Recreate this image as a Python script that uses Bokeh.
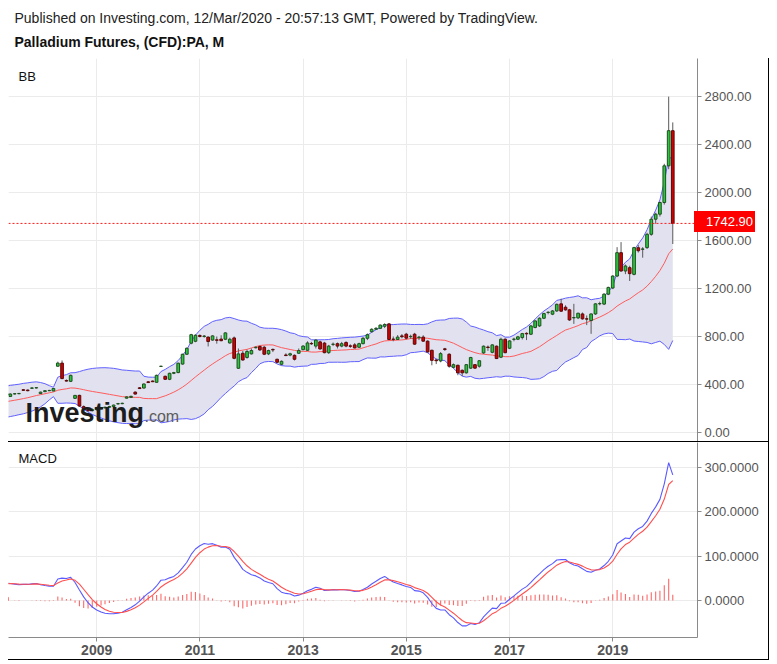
import pandas as pd
from datetime import datetime
from bokeh.plotting import figure
from bokeh.models import (Range1d, ColumnDataSource, FixedTicker, NumeralTickFormatter,
                          DatetimeTickFormatter, Label, Span, Grid, Div)
from bokeh.layouts import column
from bokeh.embed import file_html
from bokeh.resources import INLINE

# ---------------- data (monthly, Palladium CFD) ----------------
first_month = "2007-04-01"
pre_first_month = "2005-01-01"
# closes before the visible window (estimated from the indicators' start values)
pre_closes = [185, 190, 195, 198, 185, 182, 186, 190, 192, 196, 200, 205,
              198, 195, 192, 190, 188, 192, 230, 290, 318, 325, 330, 335,
              338, 340, 342]

opens = [318, 300, 321, 323, 356, 353, 368, 371, 324,
         340, 348, 346, 552, 578, 433, 426, 284, 309, 215, 190, 182,
         190, 198, 205, 210, 216, 238, 240, 286, 292, 336, 372, 370,
         422, 428, 418, 550, 468, 443, 493, 499, 570, 652, 744, 760,
         808, 800, 795, 770, 772, 778, 777, 746, 788, 535, 660, 625,
         655, 706, 716, 710, 655, 692, 610, 568, 646, 645, 643, 660,
         690, 685, 742, 720, 755, 745, 665, 734, 740, 720, 750, 722,
         730, 710, 740, 785, 840, 860, 868, 885, 905, 778, 775, 805,
         819, 798, 819, 790, 795, 761, 685, 604, 596, 697, 652, 543,
         560, 518, 497, 536, 565, 552, 663, 712, 668, 719, 627, 777,
         702, 776, 777, 791, 826, 819, 875, 888, 952, 1000, 986, 1013,
         1072, 1044, 1022, 955, 955, 988, 947, 933, 988, 1072, 1070, 1153,
         1204, 1304, 1499, 1346, 1374, 1318, 1540, 1527, 1541, 1652, 1778, 1820,
         1917, 2223, 2516]
highs = [326, 326, 327, 329, 362, 358, 376, 378, 340,
         352, 355, 370, 590, 600, 442, 482, 312, 314, 225, 205, 200,
         210, 212, 215, 222, 232, 246, 248, 302, 306, 342, 378, 408,
         428, 434, 482, 556, 474, 498, 505, 582, 656, 708, 822, 818,
         818, 812, 800, 810, 800, 810, 835, 790, 800, 700, 680, 690,
         700, 718, 725, 722, 690, 700, 615, 600, 660, 665, 650, 700,
         728, 760, 755, 778, 765, 755, 730, 750, 750, 755, 760, 735,
         745, 748, 795, 825, 868, 878, 900, 910, 912, 800, 812, 820,
         830, 815, 830, 805, 810, 768, 690, 615, 670, 705, 660, 575,
         565, 525, 570, 630, 570, 603, 725, 725, 735, 725, 790, 785,
         770, 790, 805, 830, 835, 895, 935, 960, 998, 1010, 1020, 1075,
         1115, 1060, 1030, 1072, 998, 1000, 975, 992, 1078, 1090, 1160, 1215,
         1310, 1545, 1587, 1400, 1390, 1548, 1562, 1545, 1665, 1800, 1832, 1925,
         2240, 2800, 2585]
lows = [310, 296, 316, 318, 347, 343, 364, 366, 320,
        336, 344, 343, 548, 444, 424, 420, 280, 212, 185, 170, 175,
        182, 190, 198, 205, 210, 232, 235, 282, 288, 316, 362, 366,
        412, 420, 414, 546, 438, 436, 486, 494, 565, 646, 735, 752,
        792, 790, 717, 765, 740, 760, 770, 740, 610, 530, 598, 615,
        650, 700, 680, 645, 645, 670, 578, 560, 636, 635, 600, 655,
        685, 680, 730, 700, 690, 660, 655, 720, 700, 710, 710, 705,
        700, 705, 735, 770, 832, 855, 862, 870, 770, 760, 770, 785,
        775, 780, 730, 770, 755, 665, 560, 570, 585, 680, 540, 535,
        477, 470, 490, 530, 530, 540, 655, 680, 660, 612, 620, 660,
        695, 760, 770, 775, 770, 812, 868, 880, 945, 985, 978, 1005,
        1005, 1015, 930, 905, 945, 940, 895, 822, 980, 1060, 1062, 1145,
        1195, 1295, 1340, 1320, 1263, 1310, 1500, 1457, 1530, 1640, 1740, 1800,
        1900, 2195, 1571]
closes = [320, 320, 323, 325, 351, 348, 371, 373, 336,
          348, 350, 366, 578, 449, 428, 476, 309, 220, 192, 182, 190,
          198, 205, 210, 216, 228, 240, 243, 296, 301, 320, 366, 404,
          416, 423, 476, 552, 443, 493, 499, 577, 652, 702, 815, 810,
          800, 804, 758, 805, 768, 765, 830, 777, 618, 655, 604, 675,
          683, 710, 688, 652, 683, 688, 585, 593, 641, 656, 610, 683,
          720, 746, 739, 770, 696, 665, 720, 736, 720, 740, 720, 718,
          705, 740, 785, 815, 860, 868, 895, 900, 775, 776, 795, 798,
          786, 801, 736, 795, 761, 671, 601, 598, 657, 692, 552, 565,
          497, 497, 565, 625, 536, 598, 719, 708, 730, 616, 777, 665,
          763, 778, 797, 824, 822, 888, 930, 952, 991, 1002, 1013, 1068,
          1011, 1022, 938, 958, 994, 947, 945, 988, 1072, 1075, 1153, 1209,
          1304, 1499, 1346, 1388, 1324, 1541, 1515, 1530, 1652, 1778, 1820, 1917,
          2223, 2516, 1742.9]

year_ticks = [2009, 2011, 2013, 2015, 2017, 2019]
price_ticks = [0, 400, 800, 1200, 1600, 2000, 2400, 2800]
macd_ticks = [0, 100, 200, 300]
last_price = 1742.90

# ---------------- derived ----------------
dates = pd.date_range(first_month, periods=len(closes), freq="MS")
pre_dates = pd.date_range(pre_first_month, periods=len(pre_closes), freq="MS")
all_dates = pre_dates.append(dates)
allc = pd.Series([float(v) for v in pre_closes + closes], index=all_dates)

mid = allc.rolling(20).mean()
sd = allc.rolling(20).std(ddof=0)
upper = mid + 2 * sd
lower = mid - 2 * sd
ema12 = allc.ewm(span=12, adjust=False).mean()
ema26 = allc.ewm(span=26, adjust=False).mean()
macd = ema12 - ema26
signal = macd.ewm(span=4, adjust=False).mean()
hist = macd - signal

start = 19
ind = ColumnDataSource(dict(
    x=all_dates[start:], mid=mid.values[start:], up=upper.values[start:], lo=lower.values[start:],
    macd=macd.values[start:], sig=signal.values[start:], hist=hist.values[start:]))

UP_FILL, UP_LINE = "#2ac83e", "#1f4f1f"
DN_FILL, DN_LINE = "#cf0000", "#5c0909"
is_up = [c >= o for o, c in zip(opens, closes)]
candles = ColumnDataSource(dict(
    x=dates, o=opens, h=highs, l=lows, c=closes,
    top=[max(o, c) for o, c in zip(opens, closes)],
    bottom=[min(o, c) for o, c in zip(opens, closes)],
    fill=[UP_FILL if u else DN_FILL for u in is_up],
    line=[UP_LINE if u else DN_LINE for u in is_up]))

DAY = 86400000
xr = Range1d(start=datetime(2007, 4, 18), end=datetime(2020, 8, 23))
year_ms = [pd.Timestamp(f"{y}-01-01").value // 10**6 for y in year_ticks]
FONT = "Liberation Sans"
GRID = "#ebebeb"
AXIS = "#8a8a8a"
LABEL = "#555555"

MAIN_H = 384
Y0, Y1 = -84, 3118


def style_axis(ax, size="13px", bold=False):
    ax.axis_line_color = AXIS
    ax.major_tick_line_color = AXIS
    ax.minor_tick_line_color = None
    ax.major_tick_in = 0
    ax.major_tick_out = 4
    ax.major_label_standoff = 3
    ax.major_label_text_color = LABEL
    ax.major_label_text_font = FONT
    ax.major_label_text_font_size = size
    if bold:
        ax.major_label_text_font_style = "bold"


# ---------------- header ----------------
header = figure(width=761, height=50, x_range=Range1d(0, 1), y_range=Range1d(0, 1),
                toolbar_location=None, output_backend="svg", min_border=0,
                x_axis_location=None, y_axis_location=None, outline_line_color=None)
header.grid.visible = False
header.add_layout(Label(x=6, y=41, x_units="screen", y_units="screen",
                        text="Published on Investing.com, 12/Mar/2020 - 20:57:13 GMT, Powered by TradingView.",
                        text_font=FONT, text_font_size="14px", text_color="#222222",
                        text_baseline="middle"))
header.add_layout(Label(x=6, y=17, x_units="screen", y_units="screen",
                        text="Palladium Futures, (CFD):PA, M",
                        text_font=FONT, text_font_size="14px", text_font_style="bold",
                        text_color="#111111", text_baseline="middle"))

# ---------------- main price panel ----------------
p = figure(width=761, height=MAIN_H, x_axis_type="datetime", x_range=xr,
           y_range=Range1d(Y0, Y1), y_axis_location="right", x_axis_location=None,
           toolbar_location=None, output_backend="svg",
           min_border_left=0, min_border_right=72, min_border_top=0, min_border_bottom=0,
           outline_line_color=None, background_fill_color="white")
p.styles = {"border-right": "1px solid #000", "border-bottom": "1px solid #000"}
p.xgrid.visible = False
p.add_layout(Grid(dimension=0, ticker=FixedTicker(ticks=year_ms), grid_line_color=GRID))
p.ygrid.ticker = FixedTicker(ticks=price_ticks)
p.ygrid.grid_line_color = GRID
p.yaxis.ticker = FixedTicker(ticks=price_ticks)
p.yaxis.formatter = NumeralTickFormatter(format="0.00")
style_axis(p.yaxis[0])

p.varea(x="x", y1="lo", y2="up", source=ind, fill_color="#e1e1ef", fill_alpha=1.0)
p.line(x="x", y="up", source=ind, line_color="#6161ff", line_width=1)
p.line(x="x", y="lo", source=ind, line_color="#6161ff", line_width=1)
p.line(x="x", y="mid", source=ind, line_color="#ff5c5c", line_width=1)

p.segment(x0="x", y0="l", x1="x", y1="h", source=candles, line_color="#5a5a5a", line_width=1)
p.vbar(x="x", width=19 * DAY, top="top", bottom="bottom", source=candles,
       fill_color="fill", line_color="line", line_width=1)

p.add_layout(Span(location=last_price, dimension="width", line_color="#ff1a1a",
                  line_dash="2 2", line_width=1))
p.add_layout(Label(x=10, y=366, x_units="screen", y_units="screen", text="BB",
                   text_font=FONT, text_font_size="13px", text_color="#111111",
                   text_baseline="middle"))
p.add_layout(Label(x=17, y=30, x_units="screen", y_units="screen", text="Investing",
                   text_font=FONT, text_font_size="27px", text_font_style="bold",
                   text_color="#1c1c1c", text_baseline="middle"))
p.add_layout(Label(x=136, y=26, x_units="screen", y_units="screen", text=".com",
                   text_font=FONT, text_font_size="16px",
                   text_color="#5c5c5c", text_baseline="middle"))

# last-price tag on the price scale (vertical position from the panel's value scale)
tag_h = 21
tag_center = 50 + MAIN_H * (Y1 - last_price) / (Y1 - Y0)
tag = Div(text=f"{last_price:.2f}", width=61, height=tag_h,
          styles={"position": "absolute", "left": "681px",
                  "top": f"{tag_center - tag_h / 2 - 6:.0f}px",
                  "background-color": "#ff0000", "color": "#ffffff",
                  "font-family": "Liberation Sans", "font-size": "13px",
                  "line-height": f"{tag_h}px", "padding-left": "12px",
                  "box-sizing": "border-box", "z-index": "10"})

# ---------------- MACD panel ----------------
m = figure(width=761, height=218, x_axis_type="datetime", x_range=xr,
           y_range=Range1d(-83.5, 356.4), y_axis_location="right",
           toolbar_location=None, output_backend="svg",
           min_border_left=0, min_border_right=72, min_border_top=0, min_border_bottom=23,
           outline_line_color=None, background_fill_color="white")
m.styles = {"border-right": "1px solid #000", "border-bottom": "1px solid #000"}
m.xgrid.ticker = FixedTicker(ticks=year_ms)
m.xgrid.grid_line_color = GRID
m.ygrid.ticker = FixedTicker(ticks=macd_ticks)
m.ygrid.grid_line_color = GRID
m.xaxis.ticker = FixedTicker(ticks=year_ms)
m.xaxis.formatter = DatetimeTickFormatter(years="%Y", months="%Y", days="%Y",
                                          hours="%Y", minutes="%Y", seconds="%Y")
m.yaxis.ticker = FixedTicker(ticks=macd_ticks)
m.yaxis.formatter = NumeralTickFormatter(format="0.0000")
style_axis(m.yaxis[0])
style_axis(m.xaxis[0], size="14px", bold=True)

m.vbar(x="x", width=8 * DAY, top="hist", bottom=0, source=ind,
       fill_color="#ff6b6b", line_color=None)
m.line(x="x", y="macd", source=ind, line_color="#5a5aff", line_width=1.1)
m.line(x="x", y="sig", source=ind, line_color="#ff4f4f", line_width=1.1)
m.add_layout(Label(x=10, y=179, x_units="screen", y_units="screen", text="MACD",
                   text_font=FONT, text_font_size="13px", text_color="#111111",
                   text_baseline="middle"))

layout = column(header, p, m, tag, spacing=0, margin=(8, 8, 0, 8))
open("out.html", "w").write(file_html(layout, INLINE))
